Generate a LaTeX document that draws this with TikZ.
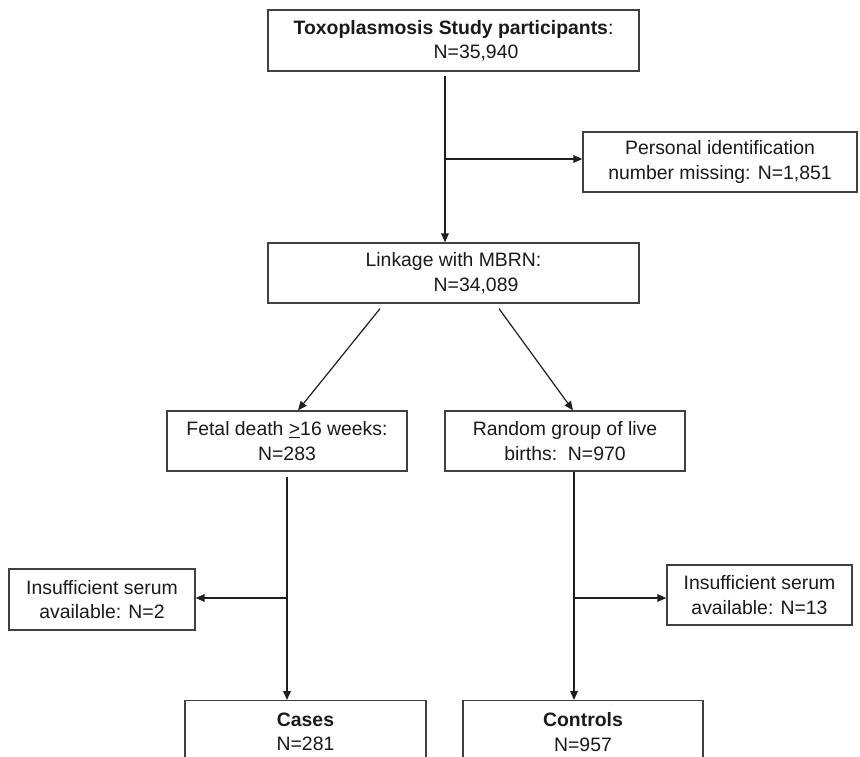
\documentclass[tikz,border=0pt]{standalone}
\usepackage{fontspec}
\setmainfont{Liberation Sans}
\usetikzlibrary{arrows.meta}
\definecolor{boxgray}{HTML}{404040}
\definecolor{linegray}{HTML}{1E1E1E}
\definecolor{textgray}{HTML}{1A1A1A}
\begin{document}
\begin{tikzpicture}[x=1pt,y=-1pt,
  box/.style={draw=boxgray, line width=1.3pt, align=center, inner sep=0pt,
    text=textgray, font=\fontsize{19.4}{24.5}\selectfont},
  arr/.style={draw=linegray, line width=1.6pt,
    -{Triangle[length=9pt,width=7.5pt]}},
  diag/.style={arr, line width=1.2pt}]
\useasboundingbox (0,0) rectangle (860,757);
\fill[white] (0,0) rectangle (860,757);
\clip (0,0) rectangle (860,757);

% boxes
\node[box, minimum width=371pt, minimum height=61pt] (top) at (453.5,40.5)
  {\textbf{Toxoplasmosis Study participants}:\\\hspace*{45pt}N=35,940};
\node[box, minimum width=274pt, minimum height=60pt] (pers) at (720,162)
  {Personal identification\\number missing: N=1,851};
\node[box, minimum width=371pt, minimum height=60pt] (link) at (453.5,273)
  {Linkage with MBRN:\\\hspace*{45pt}N=34,089};
\node[box, minimum width=240pt, minimum height=60pt] (fetal) at (287,441)
  {Fetal death \underline{>}16 weeks:\\N=283};
\node[box, minimum width=240pt, minimum height=60pt] (random) at (565,441)
  {Random group of live\\births:\ \ N=970};
\node[box, minimum width=186pt, minimum height=61pt] (insL) at (102,599.5)
  {Insufficient serum\\available: N=2};
\node[box, minimum width=185pt, minimum height=60pt] (insR) at (759.5,595)
  {Insufficient serum\\available: N=13};
\node[box, minimum width=241pt, inner ysep=12pt, anchor=north] (cases) at (305.5,700)
  {\textbf{Cases}\\N=281};
\node[box, minimum width=240pt, inner ysep=12pt, anchor=north] (controls) at (583,700)
  {\textbf{Controls}\\N=957};

% branching points on the vertical flow lines
\coordinate (j1) at (445,159);
\coordinate (j2) at (287,598);
\coordinate (j3) at (574,598);

% connectors
\draw[arr] ([yshift=-4pt]top.south -| j1) -- (link.north -| j1);
\draw[arr] (j1) -- (pers.west |- j1);

\draw[diag] ([xshift=-73.5pt,yshift=-5pt]link.south) -- ([xshift=11pt]fetal.north);
\draw[diag] ([xshift=45.5pt,yshift=-5pt]link.south) -- ([xshift=8pt]random.north);

\draw[arr] ([yshift=-5pt]fetal.south -| j2) -- (cases.north -| j2);
\draw[arr] (j2) -- (insL.east |- j2);

\draw[arr] (random.south -| j3) -- (controls.north -| j3);
\draw[arr] (j3) -- (insR.west |- j3);
\end{tikzpicture}
\end{document}
